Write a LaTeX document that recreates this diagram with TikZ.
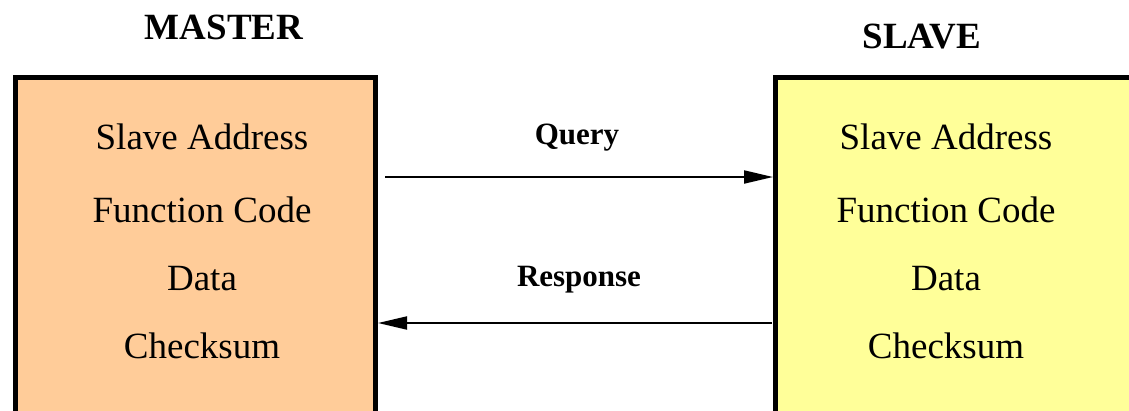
\documentclass[tikz,border=0pt]{standalone}
\usepackage{fontspec}
\setmainfont{Liberation Serif}
\usetikzlibrary{arrows.meta}
\definecolor{masterfill}{HTML}{FFCC99}
\definecolor{slavefill}{HTML}{FFFF99}
\begin{document}
\begin{tikzpicture}[x=1pt,y=-1pt,
  box/.style={draw=black,line width=5pt,rectangle,inner sep=0pt},
  field/.style={anchor=base,font=\fontsize{37}{44}\selectfont},
  head/.style={anchor=base,font=\fontsize{37}{44}\selectfont\bfseries},
  lbl/.style={anchor=base,font=\fontsize{31}{37}\selectfont\bfseries},
  arr/.style={line width=2pt,-{Triangle[length=29pt,width=13pt]}}]
\useasboundingbox (0,0) rectangle (1129,410);
\clip (0,0) rectangle (1129,410);
\node[box,fill=masterfill,minimum width=360pt,minimum height=362.5pt] (master) at (195.5,258.75) {};
\node[box,fill=slavefill,minimum width=364.5pt,minimum height=362.5pt] (slave) at (957.75,258.75) {};
\node[head] (mt) at (224,39) {MASTER};
\node[head] (st) at (922,48) {SLAVE};
\node[field] (m1) at (202,149) {Slave Address};
\node[field] (m2) at (202,222) {Function Code};
\node[field] (m3) at (202,290) {Data};
\node[field] (m4) at (202,358) {Checksum};
\node[field] (s1) at (946,149) {Slave Address};
\node[field] (s2) at (946,222) {Function Code};
\node[field] (s3) at (946,290) {Data};
\node[field] (s4) at (946,358) {Checksum};
\node[lbl] (q) at (577,144) {Query};
\node[lbl] (r) at (579,286) {Response};
\coordinate (qs) at (385,177);
\coordinate (rs) at (772,323);
\draw[arr] (qs) -- (slave.west |- qs);
\draw[arr] (rs) -- (master.east |- rs);
\end{tikzpicture}
\end{document}
